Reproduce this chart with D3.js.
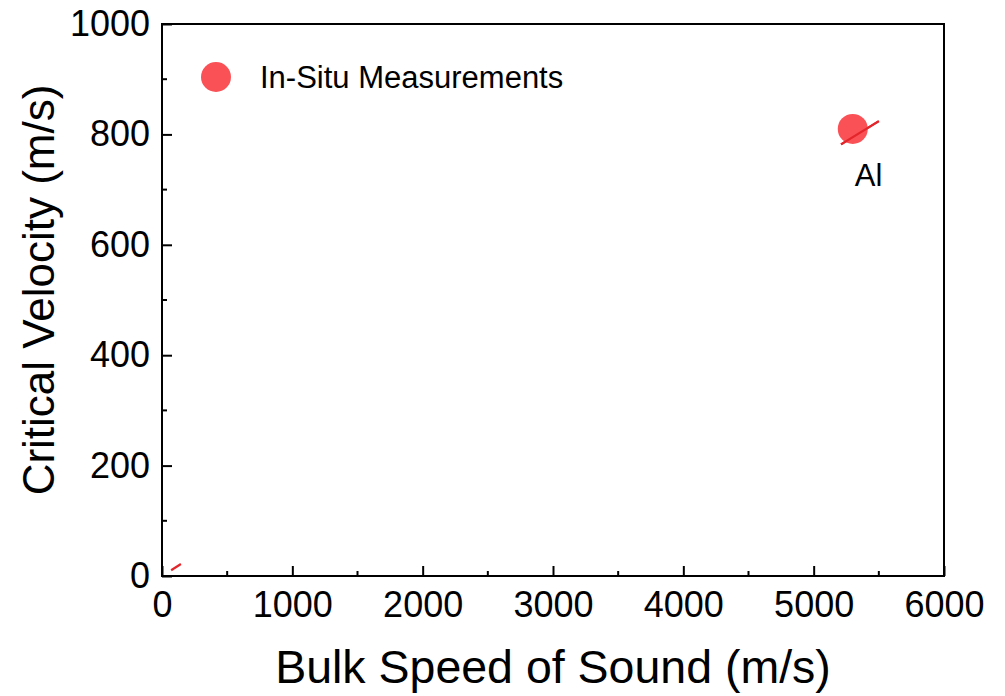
<!DOCTYPE html>
<html>
<head>
<meta charset="utf-8">
<script src="https://cdn.jsdelivr.net/npm/d3@7"></script>
<style>
  html, body { margin: 0; padding: 0; background: #fff; }
  svg { display: block; font-family: "Liberation Sans", Arial, sans-serif; }
</style>
</head>
<body>
<svg id="chart" width="1005" height="696"></svg>
<script>
// Axis ticks
const xMajorTicks = [0, 1000, 2000, 3000, 4000, 5000, 6000];
const xMinorTicks = [500, 1500, 2500, 3500, 4500, 5500];
const yMajorTicks = [0, 200, 400, 600, 800, 1000];
const yMinorTicks = [100, 300, 500, 700, 900];

// Measured materials
const materials = ["Al"];
const bulkSpeed = [5300];     // m/s
const criticalVel = [810];    // m/s

// Visible pieces of the trend line (x, y pairs in m/s)
const trendX = [[0, 8], [70, 145], [5210, 5500]];
const trendY = [[0, 1.2], [10.5, 21.8], [782, 824]];

const legendLabel = "In-Situ Measurements";
const xTitle = "Bulk Speed of Sound (m/s)";
const yTitle = "Critical Velocity (m/s)";

const margin = { left: 162, right: 1005 - 944, top: 24, bottom: 696 - 576 };
const W = 1005, H = 696;
const svg = d3.select("#chart");

const x = d3.scaleLinear().domain([0, 6000]).range([margin.left, W - margin.right]);
const y = d3.scaleLinear().domain([0, 1000]).range([H - margin.bottom, margin.top]);

const pointColor = "#fa484d";
const lineColor = "#e3262b";

const line = d3.line().x(d => x(d[0])).y(d => y(d[1]));
const trendPiece = i => trendX[i].map((v, j) => [v, trendY[i][j]]);

// Trend line pieces
trendX.forEach((xs, i) => {
  svg.append("path")
    .attr("d", line(trendPiece(i)))
    .attr("fill", "none")
    .attr("stroke", lineColor)
    .attr("stroke-width", 2.2);
});

// Data points
svg.append("g").selectAll("circle")
  .data(materials)
  .join("circle")
  .attr("cx", (d, i) => x(bulkSpeed[i]))
  .attr("cy", (d, i) => y(criticalVel[i]))
  .attr("r", 15)
  .attr("fill", pointColor)
  .attr("fill-opacity", 0.95);

// Redraw the upper trend piece over the point so it stays visible
svg.append("path")
  .attr("d", line(trendPiece(2)))
  .attr("fill", "none")
  .attr("stroke", lineColor)
  .attr("stroke-width", 2.2);

// Point labels
svg.append("g").selectAll("text")
  .data(materials)
  .join("text")
  .attr("x", (d, i) => x(bulkSpeed[i]) + 2)
  .attr("y", (d, i) => y(criticalVel[i]) + 57)
  .attr("font-size", 31)
  .attr("fill", "#000")
  .text(d => d);

// Axes (ticks point inward)
const xAxis = d3.axisBottom(x).tickValues(xMajorTicks).tickSize(-10).tickPadding(15)
  .tickFormat(d3.format("d"));
const yAxis = d3.axisLeft(y).tickValues(yMajorTicks).tickSize(-10).tickPadding(12)
  .tickFormat(d3.format("d"));

const gx = svg.append("g").attr("transform", `translate(0,${H - margin.bottom})`).call(xAxis);
const gy = svg.append("g").attr("transform", `translate(${margin.left},0)`).call(yAxis);

[gx, gy].forEach(g => {
  g.select(".domain").remove();
  g.selectAll(".tick line").attr("stroke", "#000").attr("stroke-width", 2);
  g.selectAll(".tick text").attr("font-size", 36).attr("fill", "#000")
    .attr("font-family", "'Liberation Sans', Arial, sans-serif");
});

// Minor ticks
svg.append("g").selectAll("line")
  .data(xMinorTicks).join("line")
  .attr("x1", d => x(d)).attr("x2", d => x(d))
  .attr("y1", H - margin.bottom).attr("y2", H - margin.bottom - 5)
  .attr("stroke", "#000").attr("stroke-width", 2);
svg.append("g").selectAll("line")
  .data(yMinorTicks).join("line")
  .attr("y1", d => y(d)).attr("y2", d => y(d))
  .attr("x1", margin.left).attr("x2", margin.left + 5)
  .attr("stroke", "#000").attr("stroke-width", 2);

// Frame
svg.append("rect")
  .attr("x", margin.left).attr("y", margin.top)
  .attr("width", W - margin.left - margin.right)
  .attr("height", H - margin.top - margin.bottom)
  .attr("fill", "none").attr("stroke", "#000").attr("stroke-width", 2);

// Axis titles
svg.append("text")
  .attr("x", (x.range()[0] + x.range()[1]) / 2)
  .attr("y", 683)
  .attr("text-anchor", "middle")
  .attr("font-size", 46.5)
  .text(xTitle);

svg.append("text")
  .attr("transform", `translate(54,${(y.range()[0] + y.range()[1]) / 2 - 10}) rotate(-90)`)
  .attr("text-anchor", "middle")
  .attr("font-size", 44)
  .text(yTitle);

// Legend
const legend = svg.append("g").attr("transform", "translate(216,77)");
legend.append("circle").attr("r", 15).attr("fill", pointColor).attr("fill-opacity", 0.95);
legend.append("text").attr("x", 44).attr("y", 11).attr("font-size", 31).text(legendLabel);
</script>
</body>
</html>
